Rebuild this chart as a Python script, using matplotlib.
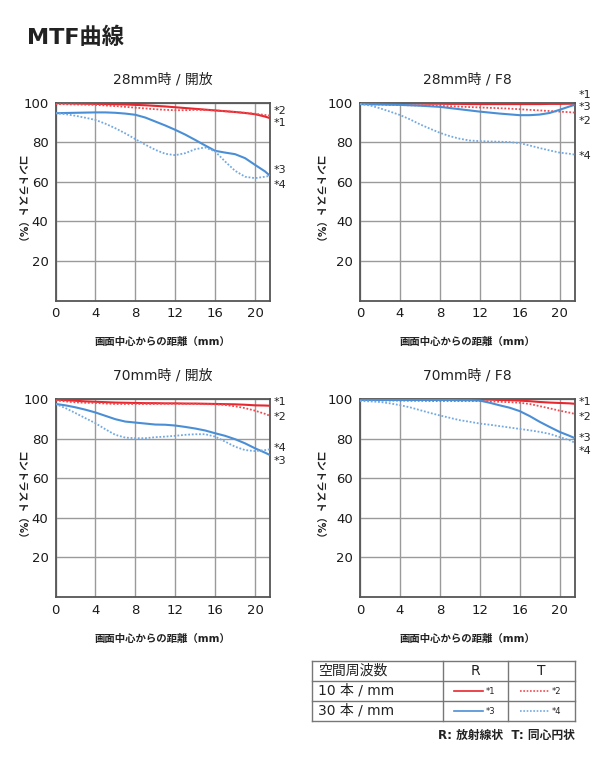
import matplotlib
matplotlib.use('Agg')
import matplotlib.pyplot as plt
import matplotlib.transforms as mtransforms

plt.rcParams['font.family'] = ['DejaVu Sans', 'Noto Sans CJK JP']

# distance from image centre (mm)
dist_mm = [0, 1, 2, 3, 4, 5, 6, 7, 8, 9, 10, 11, 12, 13, 14, 15, 16, 17, 18, 19, 20, 21, 21.5]

# 28mm / open
w28_open_r10 = [99.7, 99.6, 99.5, 99.4, 99.3, 99.2, 99.1, 99.0, 98.8, 98.6, 98.3, 98.0, 97.6, 97.2, 96.8, 96.4, 96.0, 95.6, 95.2, 94.7, 94.1, 92.9, 92.1]
w28_open_t10 = [99.2, 99.1, 99.0, 98.9, 98.8, 98.5, 98.2, 97.8, 97.4, 97.0, 96.6, 96.3, 96.1, 96.1, 96.3, 96.2, 96.0, 95.6, 95.2, 94.8, 94.3, 93.7, 93.4]
w28_open_r30 = [94.6, 94.7, 94.8, 94.9, 95.0, 95.0, 94.8, 94.4, 93.8, 92.4, 90.4, 88.4, 86.2, 83.8, 81.1, 78.3, 75.6, 74.7, 73.9, 71.9, 68.5, 65.2, 63.0]
w28_open_t30 = [94.6, 94.1, 93.3, 92.3, 91.2, 89.3, 87.0, 84.4, 81.5, 78.7, 76.1, 74.1, 73.4, 74.4, 76.4, 77.3, 75.3, 70.2, 65.5, 62.5, 61.8, 62.5, 63.0]

# 28mm / F8
w28_f8_r10 = [99.6, 99.6, 99.6, 99.6, 99.5, 99.5, 99.5, 99.4, 99.4, 99.3, 99.3, 99.2, 99.2, 99.2, 99.2, 99.2, 99.2, 99.2, 99.2, 99.3, 99.3, 99.4, 99.4]
w28_f8_t10 = [99.2, 99.1, 99.0, 98.8, 98.7, 98.6, 98.5, 98.4, 98.3, 98.1, 97.9, 97.7, 97.5, 97.3, 97.1, 96.9, 96.6, 96.3, 96.0, 95.7, 95.4, 95.1, 94.9]
w28_f8_r30 = [99.2, 99.1, 99.0, 98.9, 98.8, 98.6, 98.4, 98.1, 97.8, 97.2, 96.6, 96.0, 95.4, 94.9, 94.4, 94.0, 93.6, 93.6, 93.9, 94.7, 96.3, 98.0, 98.8]
w28_f8_t30 = [99.2, 98.5, 97.1, 95.4, 93.7, 91.5, 89.0, 86.8, 84.7, 83.0, 81.7, 80.8, 80.5, 80.3, 80.2, 80.0, 79.5, 78.3, 77.0, 75.8, 74.7, 74.1, 73.7]

# 70mm / open
w70_open_r10 = [99.7, 99.4, 99.1, 98.8, 98.6, 98.4, 98.2, 98.1, 98.0, 97.9, 97.9, 97.8, 97.8, 97.7, 97.7, 97.6, 97.5, 97.4, 97.3, 97.1, 96.8, 96.7, 96.6]
w70_open_t10 = [99.3, 98.8, 98.3, 98.1, 98.0, 97.7, 97.5, 97.5, 97.5, 97.5, 97.5, 97.6, 97.6, 97.6, 97.5, 97.4, 97.3, 97.0, 96.3, 95.4, 94.1, 92.5, 91.5]
w70_open_r30 = [97.5, 96.8, 95.8, 94.6, 93.2, 91.5, 89.8, 88.6, 88.1, 87.6, 87.1, 87.0, 86.6, 85.9, 85.1, 84.1, 82.7, 81.4, 79.7, 77.6, 75.1, 72.9, 71.7]
w70_open_t30 = [97.5, 95.4, 92.9, 90.3, 87.8, 84.7, 81.9, 80.5, 80.2, 80.2, 80.7, 81.0, 81.4, 81.9, 82.2, 82.2, 81.0, 78.5, 75.9, 74.2, 73.7, 74.2, 74.6]

# 70mm / F8
w70_f8_r10 = [99.9, 99.9, 99.9, 99.9, 99.9, 99.9, 99.9, 99.9, 99.9, 99.9, 99.9, 99.9, 99.8, 99.7, 99.5, 99.4, 99.2, 98.9, 98.5, 98.2, 98.0, 97.8, 97.6]
w70_f8_t10 = [99.5, 99.4, 99.3, 99.2, 99.2, 99.1, 99.1, 99.0, 99.0, 99.0, 99.0, 99.0, 99.0, 98.8, 98.6, 98.4, 98.1, 97.5, 96.4, 95.3, 94.1, 93.1, 92.5]
w70_f8_r30 = [99.5, 99.5, 99.5, 99.5, 99.5, 99.5, 99.5, 99.5, 99.5, 99.5, 99.4, 99.4, 99.2, 98.1, 96.8, 95.6, 93.9, 91.4, 88.5, 85.9, 83.4, 81.4, 80.3]
w70_f8_t30 = [99.0, 98.8, 98.5, 97.8, 96.9, 95.8, 94.4, 93.0, 91.7, 90.5, 89.3, 88.5, 87.6, 87.0, 86.3, 85.6, 84.9, 84.2, 83.4, 82.4, 80.8, 79.2, 78.0]

panel_titles = ['28mm時 / 開放', '28mm時 / F8', '70mm時 / 開放', '70mm時 / F8']
panel_series = [
    [w28_open_r10, w28_open_t10, w28_open_r30, w28_open_t30],
    [w28_f8_r10, w28_f8_t10, w28_f8_r30, w28_f8_t30],
    [w70_open_r10, w70_open_t10, w70_open_r30, w70_open_t30],
    [w70_f8_r10, w70_f8_t10, w70_f8_r30, w70_f8_t30],
]
curve_names = ['*1', '*2', '*3', '*4']
x_ticks = [0, 4, 8, 12, 16, 20]
y_ticks = [20, 40, 60, 80, 100]

# where the *n tags sit beside each panel (y in data units)
tag_y = [
    [89.6, 95.5, 66.0, 58.4],
    [103.8, 90.5, 97.6, 73.2],
    [98.3, 91.1, 68.8, 75.4],
    [98.5, 90.8, 80.2, 73.6],
]

red = '#e8262e'
red_dot = '#ee4a4f'
blue = '#4a8fd6'
blue_dot = '#72a9e2'
styles = [
    dict(color=red, lw=1.5, ls='-'),
    dict(color=red_dot, lw=1.3, ls=(0, (1, 1))),
    dict(color=blue, lw=1.5, ls='-'),
    dict(color=blue_dot, lw=1.3, ls=(0, (1, 1))),
]

W, H = 610, 770
fig = plt.figure(figsize=(W / 100, H / 100), dpi=100)

fig.text(27 / W, 1 - 37 / H, 'MTF曲線', fontsize=16, fontweight='bold',
         color='#222222', ha='left', va='center')

lefts = [55.5, 360, 55.5, 360]
tops = [102.5, 102.5, 399, 399]
ylab_x = [20, 317.5, 20, 317.5]
aw, ah = 214.5, 198

for i in range(4):
    ax = fig.add_axes([lefts[i] / W, 1 - (tops[i] + ah) / H, aw / W, ah / H])
    for s, st in zip(panel_series[i], styles):
        ax.plot(dist_mm, s, zorder=3, solid_capstyle='butt', **st)
    ax.set_xlim(0, 21.5)
    ax.set_ylim(0, 100)
    ax.set_xticks(x_ticks)
    ax.set_yticks(y_ticks)
    ax.grid(True, color='#9a9a9a', lw=1.0)
    ax.tick_params(length=0, labelsize=9.5, pad=5, colors='#1a1a1a')
    for sp in ax.spines.values():
        sp.set_color('#555555')
        sp.set_linewidth(1.3)
    ax.set_xlabel('画面中心からの距離（mm）', fontsize=7.5, fontweight='bold',
                  labelpad=12, color='#222222')
    ax.set_title(panel_titles[i], fontsize=10, pad=14, color='#222222')
    trans = mtransforms.blended_transform_factory(ax.transAxes, ax.transData)
    for name, ty in zip(curve_names, tag_y[i]):
        ax.text(1.018, ty, name, transform=trans, fontsize=8, ha='left',
                va='center', color='#222222', clip_on=False)
    fig.text(ylab_x[i] / W, 1 - (tops[i] + ah / 2) / H, 'コントラスト（%）',
             rotation=-90, fontsize=7.5, fontweight='bold', ha='center',
             va='center', color='#222222')

# legend table
tab = fig.add_axes([0, 0, 1, 1])
tab.set_xlim(0, W)
tab.set_ylim(H, 0)
tab.axis('off')
t_left, t_right, c1, c2 = 311.7, 575, 443.3, 508.3
row_y = [661, 681, 701, 721]
grid_c = '#777777'
for y in row_y:
    tab.plot([t_left, t_right], [y, y], color=grid_c, lw=1)
for x in [t_left, c1, c2, t_right]:
    tab.plot([x, x], [row_y[0], row_y[-1]], color=grid_c, lw=1)

row_labels = ['空間周波数', '10 本 / mm', '30 本 / mm']
for k, lab in enumerate(row_labels):
    tab.text(318, (row_y[k] + row_y[k + 1]) / 2, lab, fontsize=10,
             ha='left', va='center', color='#222222')
tab.text((c1 + c2) / 2, (row_y[0] + row_y[1]) / 2, 'R', fontsize=10,
         ha='center', va='center', color='#222222')
tab.text((c2 + t_right) / 2, (row_y[0] + row_y[1]) / 2, 'T', fontsize=10,
         ha='center', va='center', color='#222222')

for k, st in enumerate(styles):
    row = 1 + k // 2
    x0 = 454 if k % 2 == 0 else 520
    yc = (row_y[row] + row_y[row + 1]) / 2
    st2 = dict(st)
    st2['lw'] = 1.2
    tab.plot([x0, x0 + 29], [yc, yc], **st2)
    tab.text(x0 + 32, yc, curve_names[k], fontsize=6, ha='left', va='center',
             color='#222222')

tab.text(575, 735, 'R: 放射線状  T: 同心円状', fontsize=8.5, fontweight='bold',
         ha='right', va='center', color='#222222')

fig.savefig('out.png', dpi=100)
